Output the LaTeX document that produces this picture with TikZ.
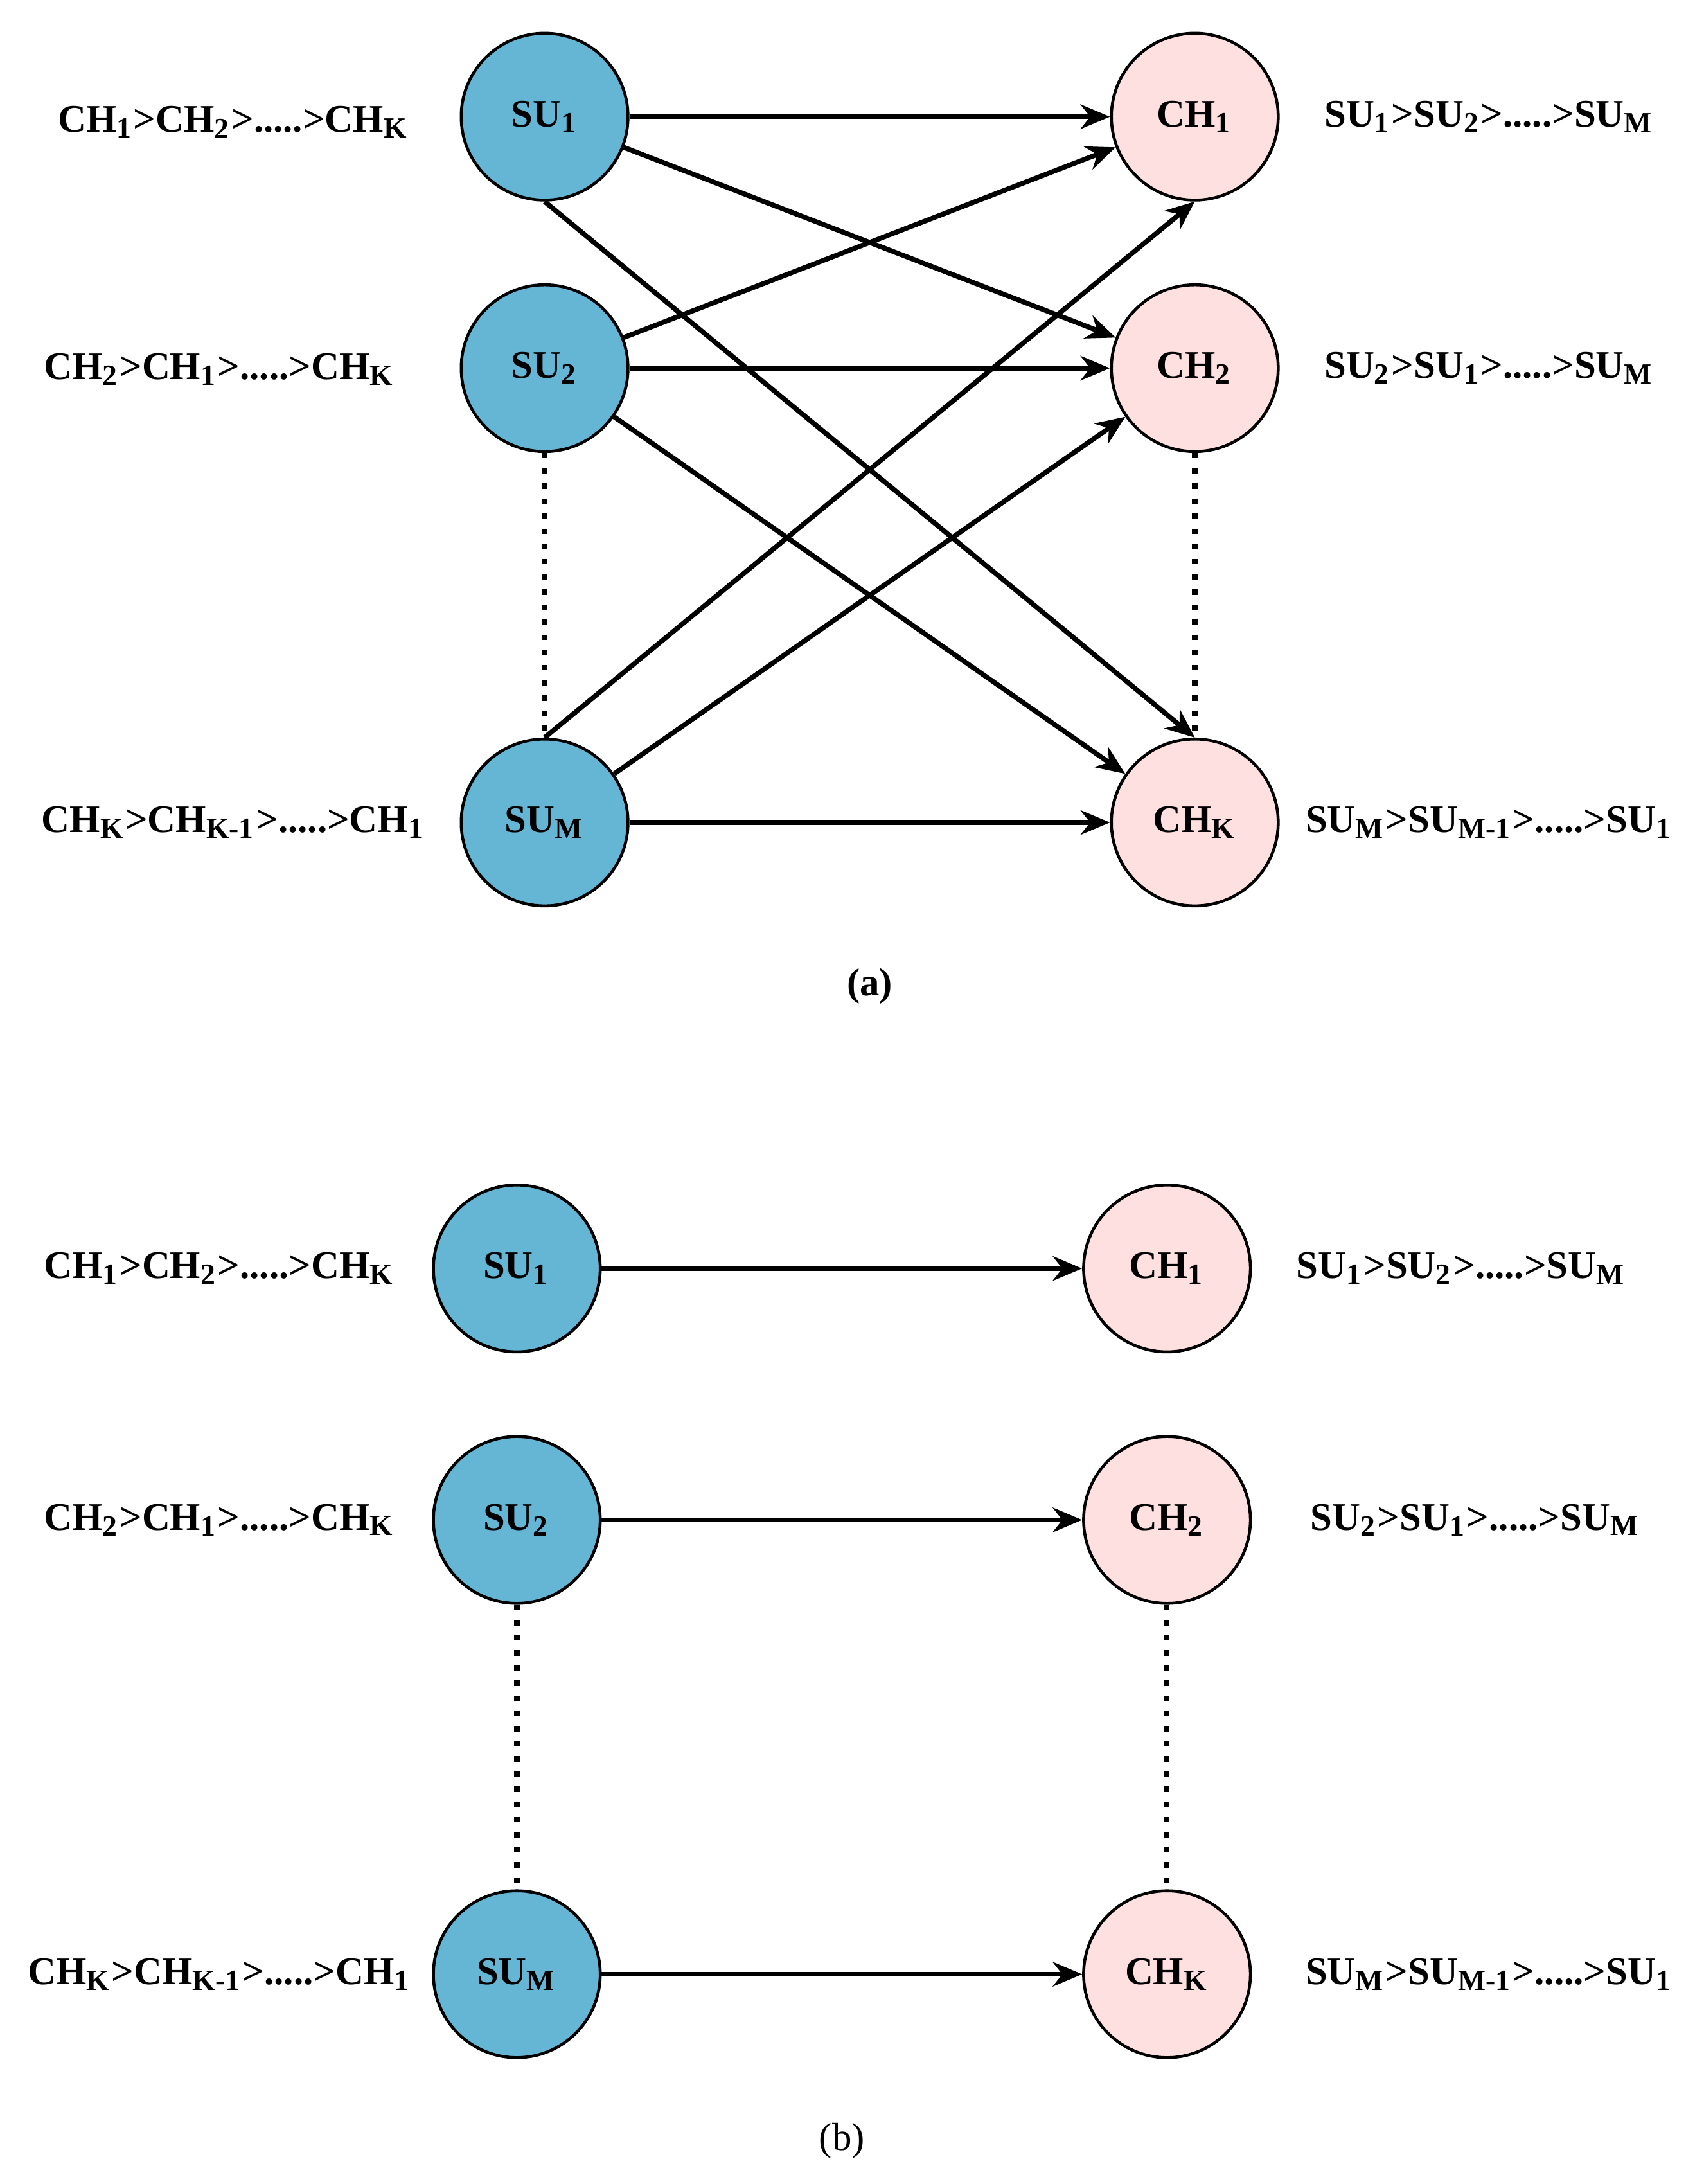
\documentclass[tikz,border=0pt]{standalone}
\usepackage{fontspec}
\setmainfont{Liberation Serif}
\usetikzlibrary{arrows.meta}
\newcommand{\sub}[1]{\textsubscript{#1}}
\begin{document}
\begin{tikzpicture}[x=0.01cm,y=-0.01cm,
                    every node/.style={font=\fontsize{8}{10}\selectfont\bfseries},
                    su/.style={circle, draw, line width=0.6pt, fill=cyan!55!teal!70!white, minimum size=1.2cm, inner sep=0pt},
                    ch/.style={circle, draw, line width=0.6pt, fill=red!12!white, minimum size=1.2cm, inner sep=0pt},
                    link/.style={-{Stealth[length=6pt,width=5pt]}, line width=1pt},
                    dots/.style={dotted, line width=1.1pt}
                ]
\useasboundingbox (0,0) rectangle (1220,1572);
% (a)
\node[su] (su1) at (392,84) {SU\sub{1}};
\node[su] (su2) at (392,265) {SU\sub{2}};
\node[su] (sum) at (392,592) {SU\sub{M}};
\node[ch] (ch1) at (860,84) {CH\sub{1}};
\node[ch] (ch2) at (860,265) {CH\sub{2}};
\node[ch] (chk) at (860,592) {CH\sub{K}};
\node (l1) at (168,88) {CH\sub{1}>CH\sub{2}>.....>CH\sub{K}};
\node (l2) at (158,266) {CH\sub{2}>CH\sub{1}>.....>CH\sub{K}};
\node (lk) at (168,592) {CH\sub{K}>CH\sub{K-1}>.....>CH\sub{1}};
\node (r1) at (1072,84) {SU\sub{1}>SU\sub{2}>.....>SU\sub{M}};
\node (r2) at (1072,265) {SU\sub{2}>SU\sub{1}>.....>SU\sub{M}};
\node (rk) at (1072,592) {SU\sub{M}>SU\sub{M-1}>.....>SU\sub{1}};
\node (capa) at (626,710) {(a)};
\draw[link] (su1) -- (ch1);
\draw[link] (su1) -- (ch2);
\draw[link] (su1.south) -- (chk.north);
\draw[link] (su2) -- (ch1);
\draw[link] (su2) -- (ch2);
\draw[link] (su2) -- (chk);
\draw[link] (sum.north) -- (ch1.south);
\draw[link] (sum) -- (ch2);
\draw[link] (sum) -- (chk);
\draw[dots] (su2.south) -- (sum.north);
\draw[dots] (ch2.south) -- (chk.north);
% (b)
\node[su] (bsu1) at (372,913) {SU\sub{1}};
\node[su] (bsu2) at (372,1094) {SU\sub{2}};
\node[su] (bsum) at (372,1421) {SU\sub{M}};
\node[ch] (bch1) at (840,913) {CH\sub{1}};
\node[ch] (bch2) at (840,1094) {CH\sub{2}};
\node[ch] (bchk) at (840,1421) {CH\sub{K}};
\node (bl1) at (158,913) {CH\sub{1}>CH\sub{2}>.....>CH\sub{K}};
\node (bl2) at (158,1094) {CH\sub{2}>CH\sub{1}>.....>CH\sub{K}};
\node (blk) at (158,1421) {CH\sub{K}>CH\sub{K-1}>.....>CH\sub{1}};
\node (br1) at (1052,913) {SU\sub{1}>SU\sub{2}>.....>SU\sub{M}};
\node (br2) at (1062,1094) {SU\sub{2}>SU\sub{1}>.....>SU\sub{M}};
\node (brk) at (1072,1421) {SU\sub{M}>SU\sub{M-1}>.....>SU\sub{1}};
\node[font=\fontsize{8}{10}\selectfont] (capb) at (606,1541) {(b)};
\draw[link] (bsu1) -- (bch1);
\draw[link] (bsu2) -- (bch2);
\draw[link] (bsum) -- (bchk);
\draw[dots] (bsu2.south) -- (bsum.north);
\draw[dots] (bch2.south) -- (bchk.north);
\end{tikzpicture}
\end{document}
